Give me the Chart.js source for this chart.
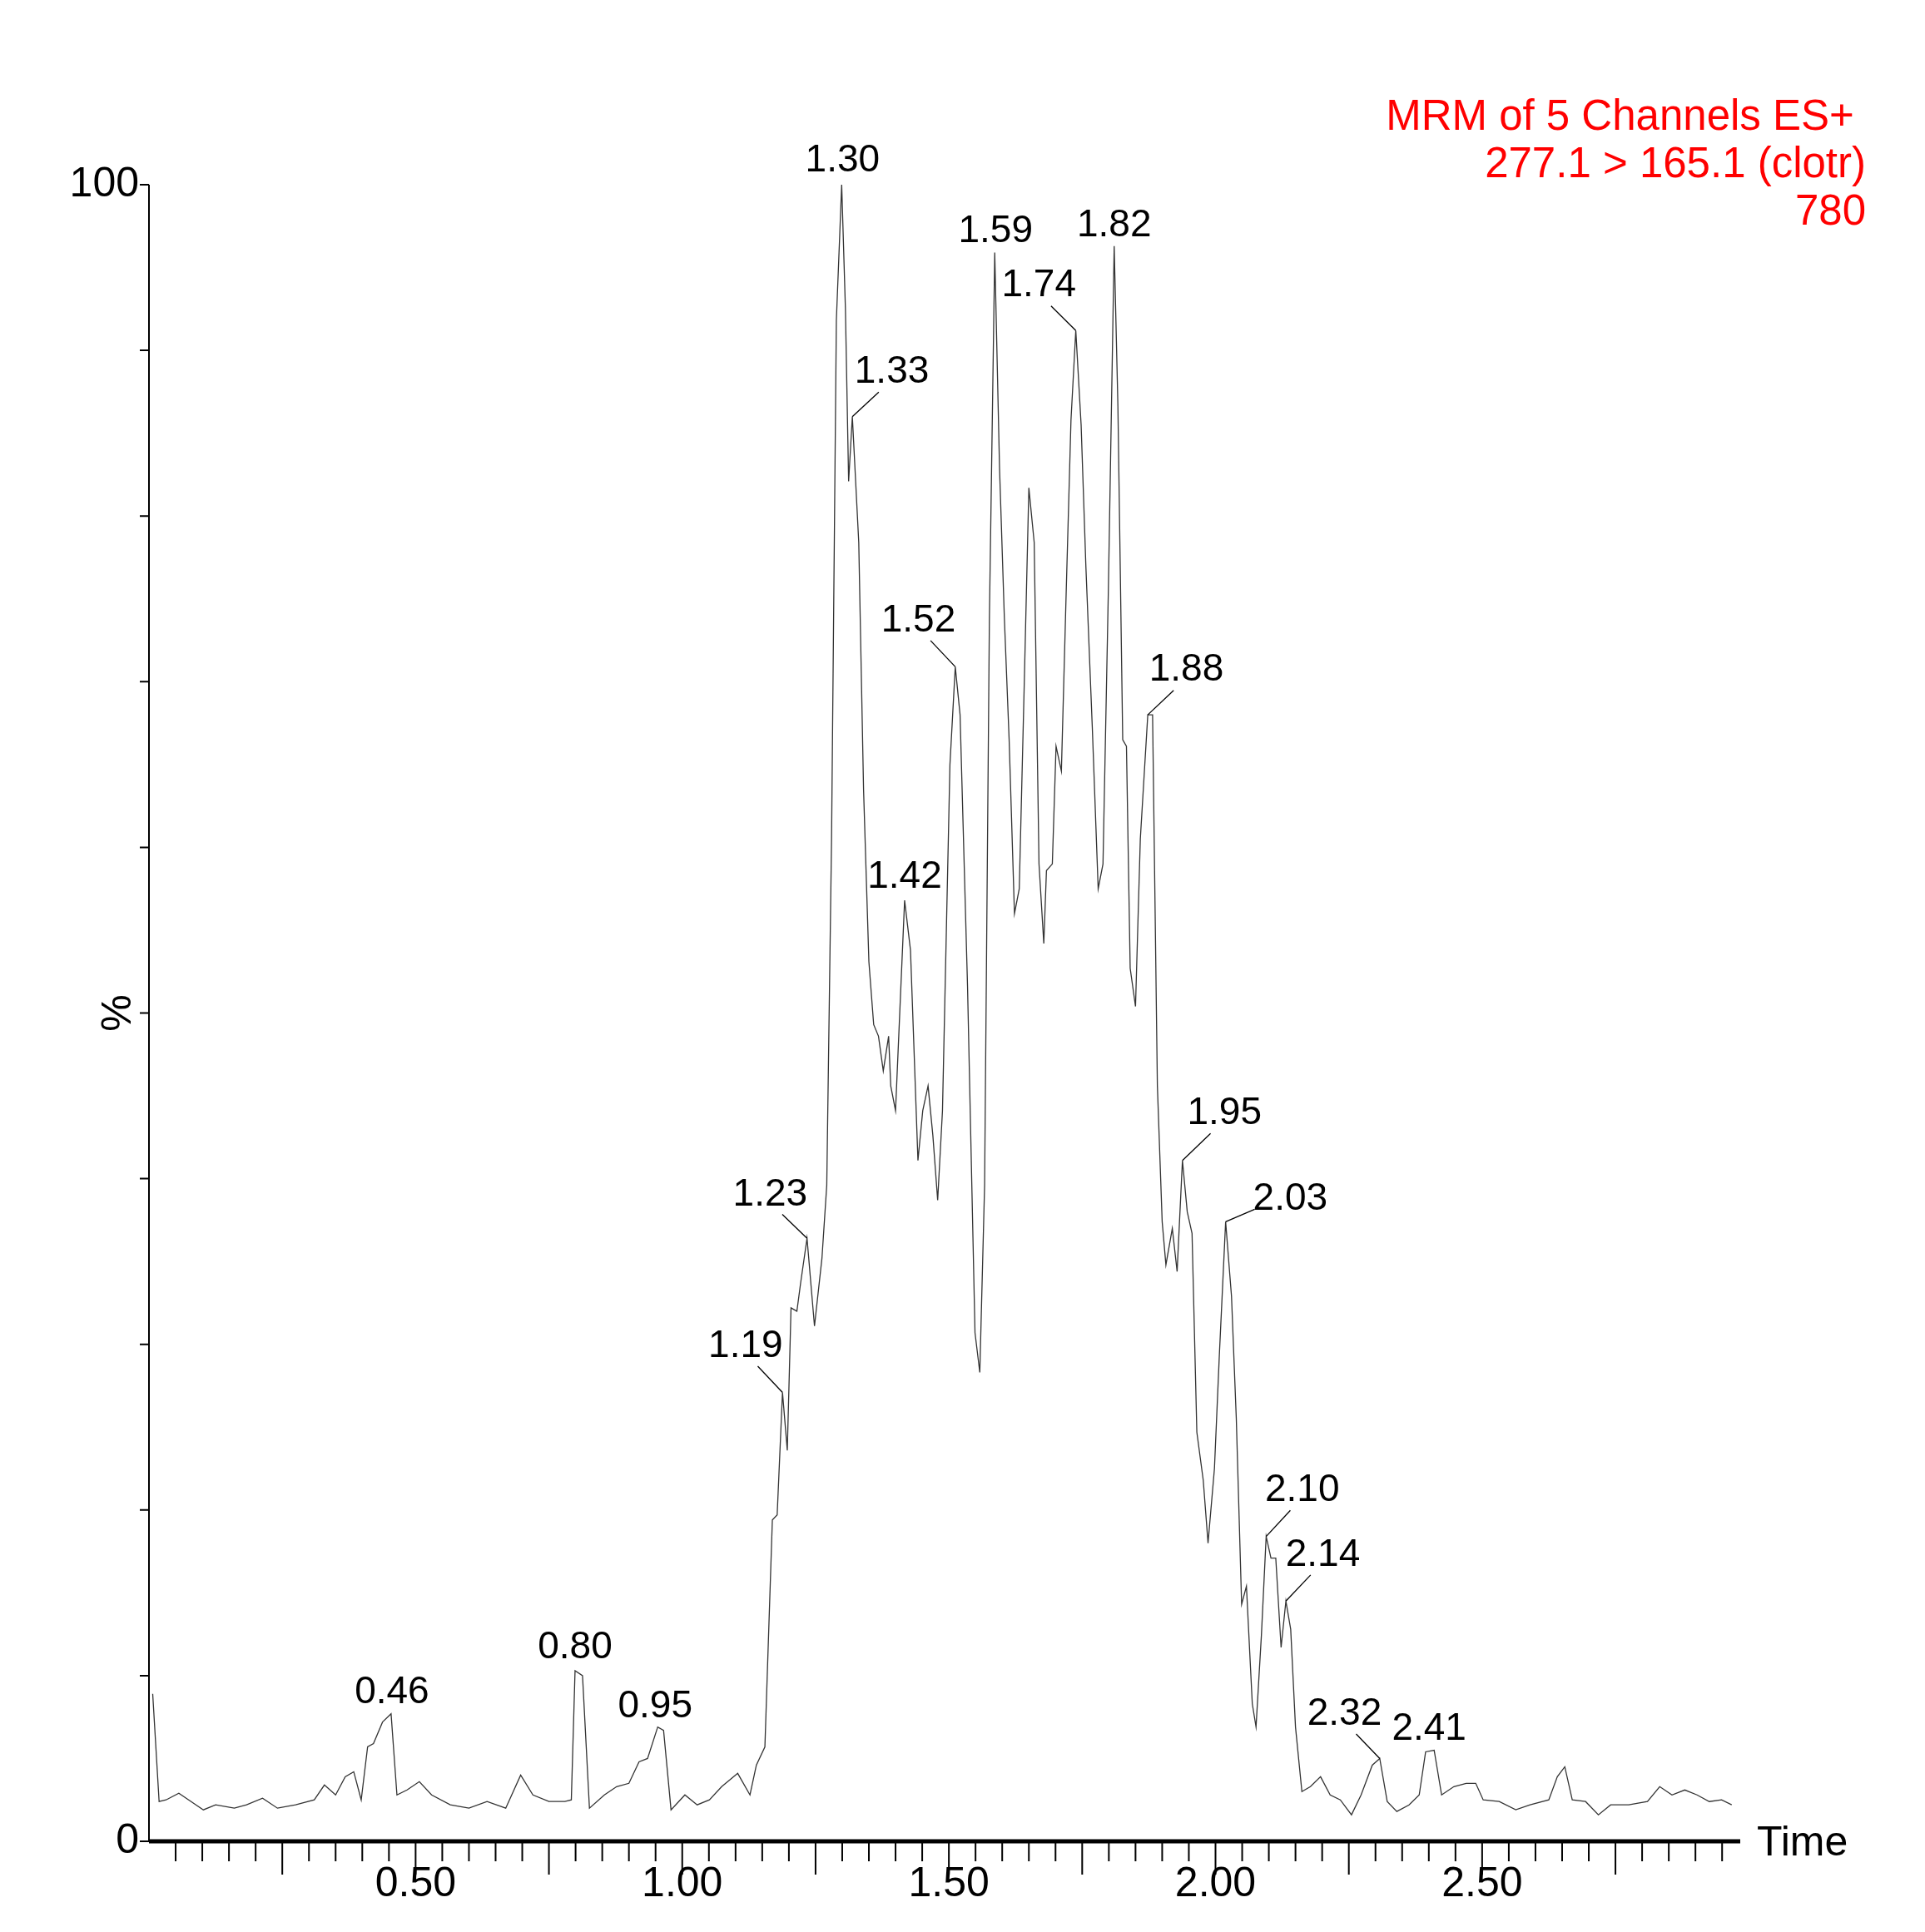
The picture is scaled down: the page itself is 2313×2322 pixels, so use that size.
<!DOCTYPE html>
<html>
<head>
<meta charset="utf-8">
<script src="https://cdn.jsdelivr.net/npm/chart.js@4/dist/chart.umd.min.js"></script>
<style>
  body { margin: 0; background: #fff; }
  #wrap { width: 2313px; height: 2322px; position: relative; }
</style>
</head>
<body>
<div id="wrap"><canvas id="chart"></canvas></div>
<script>
// trace: retention time (min) and relative intensity (%)
const times = [0.007,0.019,0.032,0.056,0.079,0.102,0.125,0.160,0.183,0.213,0.241,0.275,0.310,0.329,0.350,0.368,0.384,0.398,0.410,0.421,0.438,0.454,0.465,0.484,0.507,0.530,0.565,0.600,0.634,0.669,0.697,0.720,0.750,0.780,0.792,0.799,0.813,0.826,0.854,0.877,0.900,0.919,0.935,0.954,0.965,0.979,1.005,1.028,1.051,1.074,1.104,1.127,1.139,1.155,1.169,1.178,1.188,1.197,1.204,1.215,1.222,1.234,1.248,1.262,1.271,1.280,1.289,1.299,1.306,1.312,1.319,1.331,1.340,1.350,1.359,1.368,1.377,1.387,1.391,1.400,1.410,1.417,1.428,1.442,1.451,1.461,1.470,1.479,1.488,1.502,1.512,1.521,1.535,1.549,1.558,1.567,1.576,1.586,1.595,1.604,1.613,1.623,1.632,1.641,1.650,1.660,1.669,1.678,1.683,1.694,1.701,1.711,1.720,1.729,1.738,1.748,1.757,1.769,1.780,1.789,1.799,1.810,1.817,1.826,1.833,1.840,1.850,1.859,1.873,1.882,1.891,1.900,1.907,1.919,1.928,1.938,1.947,1.956,1.965,1.977,1.986,1.998,2.007,2.019,2.030,2.039,2.049,2.058,2.069,2.076,2.086,2.095,2.104,2.113,2.123,2.132,2.141,2.150,2.162,2.178,2.197,2.215,2.234,2.255,2.273,2.294,2.308,2.322,2.340,2.363,2.382,2.394,2.410,2.424,2.447,2.470,2.488,2.502,2.532,2.563,2.590,2.625,2.641,2.655,2.669,2.694,2.718,2.741,2.775,2.810,2.833,2.856,2.880,2.903,2.926,2.949,2.968];
const intensity = [8.9,2.4,2.5,2.9,2.4,1.9,2.2,2.0,2.2,2.6,2.0,2.2,2.5,3.4,2.8,3.9,4.2,2.5,5.7,5.9,7.2,7.7,2.8,3.1,3.6,2.8,2.2,2.0,2.4,2.0,4.0,2.8,2.4,2.4,2.5,10.3,10.0,2.0,2.8,3.3,3.5,4.8,5.0,6.9,6.7,1.9,2.8,2.2,2.5,3.3,4.1,2.8,4.6,5.7,19.4,19.7,27.1,23.6,32.2,32.0,33.7,36.4,31.1,35.2,39.6,60.5,91.8,100,92.5,82.1,86.0,78.4,63.5,53.1,49.3,48.6,46.5,48.6,45.6,44.1,51.6,56.8,53.8,41.1,44.1,45.6,42.6,38.7,44.1,65.0,70.9,68.0,51.6,30.7,28.3,39.6,73.9,95.9,82.9,73.9,66.5,56.0,57.5,69.4,81.7,78.4,59.0,54.2,58.6,59.0,66.1,64.6,75.4,85.8,91.2,85.5,76.9,67.2,57.5,59.0,75.4,96.3,86.6,66.5,66.1,52.7,50.4,60.5,68.0,68.0,45.6,37.4,34.8,37.0,34.4,41.1,38.0,36.7,24.7,21.8,18.0,22.5,29.2,37.4,32.9,25.5,14.3,15.4,8.3,6.9,12.4,18.4,17.1,17.1,11.7,14.5,12.8,6.9,3.0,3.3,3.9,2.8,2.5,1.6,2.8,4.6,5.0,2.4,1.8,2.2,2.8,5.4,5.5,2.8,3.3,3.5,3.5,2.5,2.4,1.9,2.2,2.5,3.9,4.5,2.5,2.4,1.6,2.2,2.2,2.4,3.3,2.8,3.1,2.8,2.4,2.5,2.2];

// peak annotations: text and the time of the apex they mark
const peakLabels = ['0.46','0.80','0.95','1.19','1.23','1.30','1.33','1.42','1.52','1.59','1.74','1.82','1.88','1.95','2.03','2.10','2.14','2.32','2.41'];
const peakTimes  = [0.454,0.799,0.954,1.188,1.234,1.299,1.319,1.417,1.512,1.586,1.738,1.810,1.873,1.938,2.019,2.095,2.132,2.308,2.410];
// label offset from the apex, in px
const labelDx = [1,0,-3,-44,-44,1,47,0,-44,1,-44,0,46,50,77,43,44,-42,-6];
const labelDy = [-25,-27,-24,-55,-52,-28,-53,-28,-55,-25,-53,-24,-53,-56,-27,-55,-55,-53,-25];

const headerLines = ['MRM of 5 Channels ES+ ', '277.1 > 165.1 (clotr)', '780'];
const xLabelTicks = [0.5, 1.0, 1.5, 2.0, 2.5];
const xMax = 2.984;

const FONT = '"Liberation Sans", Arial, sans-serif';

const drawFrame = {
  id: 'drawFrame',
  afterDraw(chart) {
    const { ctx, chartArea: a, scales: { x, y } } = chart;
    ctx.save();
    ctx.strokeStyle = '#000';
    ctx.fillStyle = '#000';

    // y axis
    ctx.lineWidth = 2;
    ctx.beginPath();
    ctx.moveTo(a.left, a.top); ctx.lineTo(a.left, a.bottom);
    for (let v = 0; v <= 100; v += 10) {
      const py = y.getPixelForValue(v);
      ctx.moveTo(a.left - 11, py); ctx.lineTo(a.left, py);
    }
    ctx.stroke();
    ctx.font = '50px ' + FONT;
    ctx.textAlign = 'right';
    ctx.textBaseline = 'middle';
    ctx.fillText('100', a.left - 12, y.getPixelForValue(100));
    ctx.fillText('0', a.left - 12, y.getPixelForValue(0));
    ctx.save();
    ctx.translate(143, y.getPixelForValue(50));
    ctx.rotate(-Math.PI / 2);
    ctx.textAlign = 'center';
    ctx.fillText('%', 0, 0);
    ctx.restore();

    // x axis
    ctx.lineWidth = 5;
    ctx.beginPath();
    ctx.moveTo(a.left, a.bottom); ctx.lineTo(a.right, a.bottom);
    ctx.stroke();
    ctx.lineWidth = 2;
    ctx.beginPath();
    for (let i = 1; i * 0.05 <= xMax; i++) {
      const px = x.getPixelForValue(i * 0.05);
      const len = i % 5 === 0 ? 40 : 24;
      ctx.moveTo(px, a.bottom); ctx.lineTo(px, a.bottom + len);
    }
    ctx.stroke();
    ctx.textAlign = 'center';
    ctx.textBaseline = 'middle';
    xLabelTicks.forEach(t => ctx.fillText(t.toFixed(2), x.getPixelForValue(t), a.bottom + 52));
    ctx.textAlign = 'left';
    ctx.fillText('Time', a.right + 20, a.bottom + 3);

    // peak labels
    ctx.font = '46px ' + FONT;
    ctx.lineWidth = 1.3;
    ctx.textBaseline = 'middle';
    ctx.textAlign = 'center';
    peakLabels.forEach((txt, i) => {
      const idx = times.indexOf(peakTimes[i]);
      const px = x.getPixelForValue(times[idx]);
      const py = y.getPixelForValue(intensity[idx]);
      const dx = labelDx[i] * 0.68, dy = labelDy[i] * 0.68;
      const lx = px + dx * 1.483;
      const ly = py + dy * 1.483;
      ctx.fillText(txt, lx, ly);
      if (Math.abs(labelDx[i]) > 20) {
        const ex = lx + (px - lx) * (Math.abs(dx) > 40 ? 0.55 : 0.33);
        const ey = ly + Math.min(24, (py - ly) * 0.45);
        ctx.beginPath();
        ctx.moveTo(px, py); ctx.lineTo(ex, ey);
        ctx.stroke();
      }
    });

    // header
    ctx.fillStyle = '#ff0000';
    ctx.font = '51px ' + FONT;
    ctx.textAlign = 'right';
    headerLines.forEach((l, i) => ctx.fillText(l, 2242, 142 + i * 57));
    ctx.restore();
  }
};

new Chart(document.getElementById('chart'), {
  type: 'line',
  data: {
    datasets: [{
      data: times.map((t, i) => ({ x: t, y: intensity[i] })),
      borderColor: '#333',
      borderWidth: 1.3,
      pointRadius: 0,
      tension: 0,
      fill: false
    }]
  },
  options: {
    responsive: true,
    maintainAspectRatio: false,
    animation: false,
    events: [],
    layout: { padding: { left: 179, right: 222, top: 222, bottom: 109 } },
    plugins: { legend: { display: false }, tooltip: { enabled: false } },
    scales: {
      x: { type: 'linear', min: 0, max: xMax, display: false },
      y: { min: 0, max: 100, display: false }
    }
  },
  plugins: [drawFrame]
});
</script>
</body>
</html>
